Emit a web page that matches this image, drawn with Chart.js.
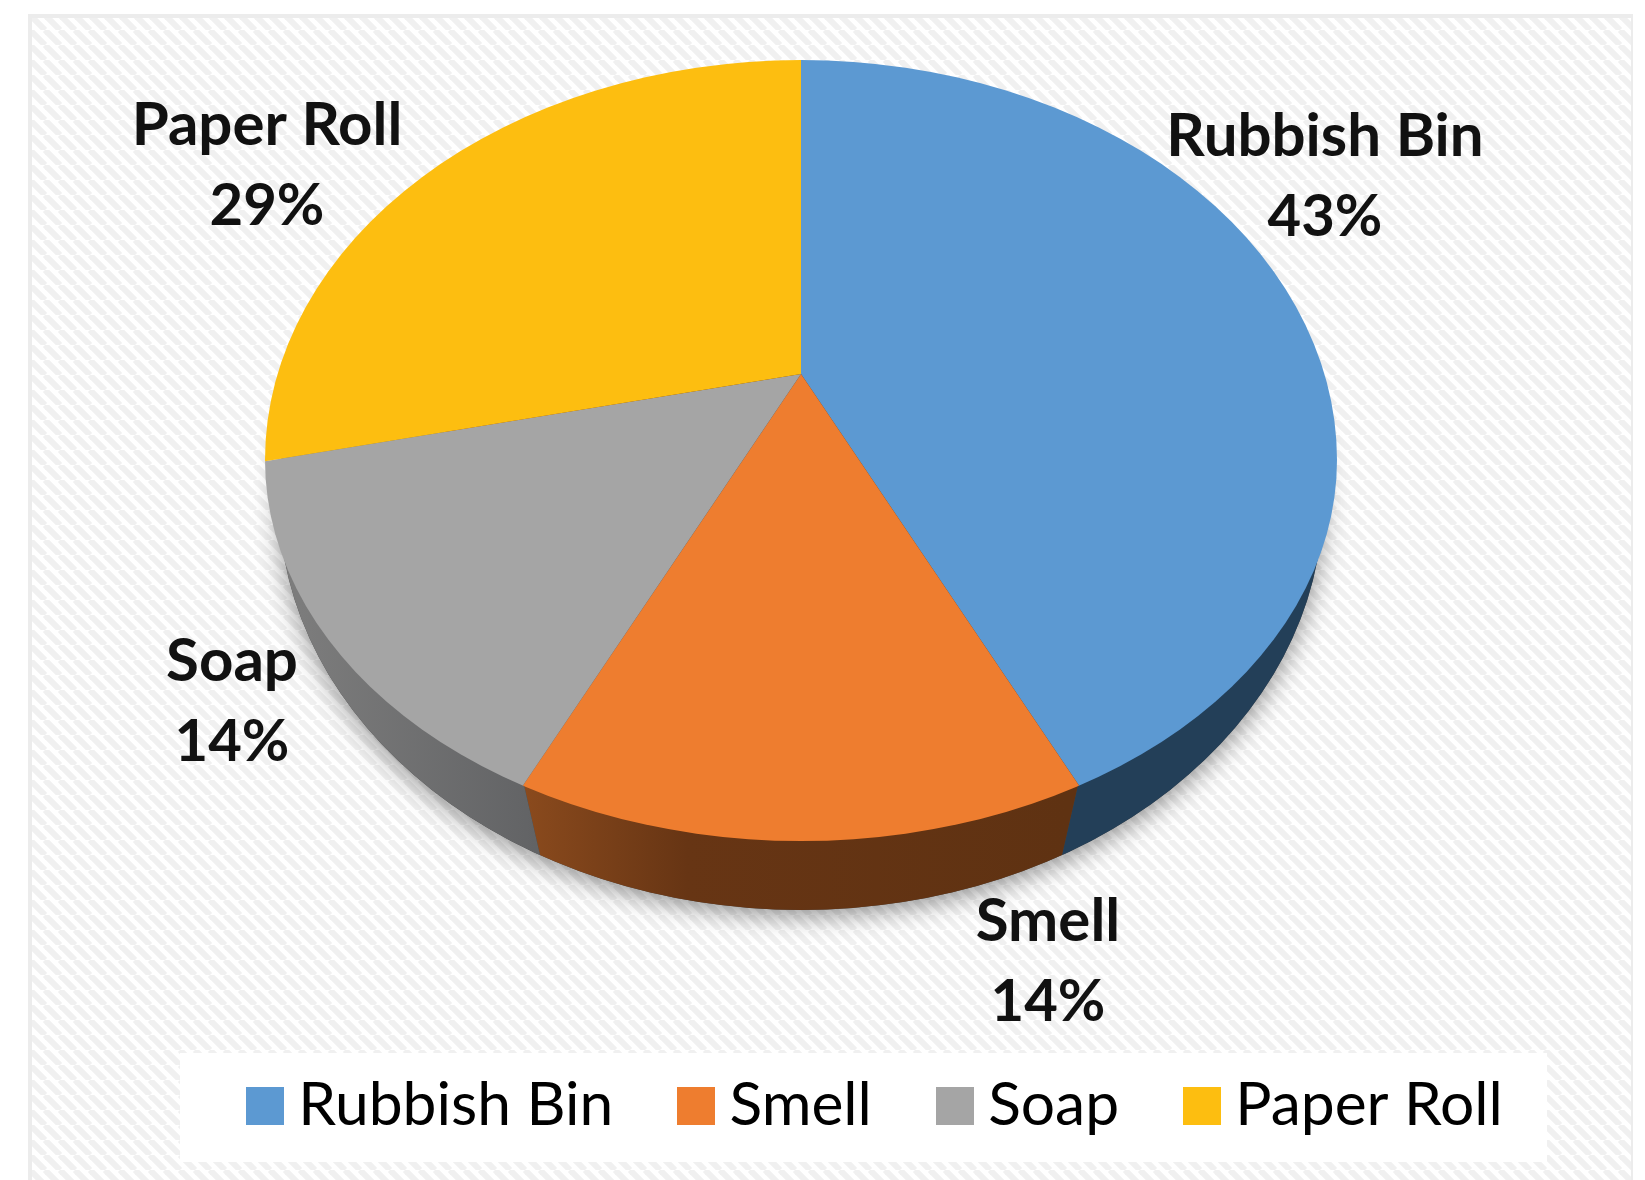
<!DOCTYPE html>
<html>
<head>
<meta charset="utf-8">
<title>Pie chart</title>
<script src="https://cdn.jsdelivr.net/npm/chart.js@4/dist/chart.umd.js"></script>
<style>
  html, body { margin: 0; padding: 0; background: #fff; }
  canvas { display: block; }
</style>
</head>
<body>
<canvas id="pieChart" width="1645" height="1180"></canvas>
<script>
var categories = ["Rubbish Bin", "Smell", "Soap", "Paper Roll"];
var counts = [3, 1, 1, 2];
var topColors = ["#5c99d2", "#ee7d2f", "#a5a5a5", "#fdbe10"];

// the look of the 3D disc: the top face is an egg shape, slices meet above its centre
var topFace = { cx: 801, cy: 460, rx: 536, ryUp: 400, ryDown: 381, tipY: 374, squash: 1.403 };
// the wall edges lean inwards, so they meet at a point far below the disc
var baseFace = { cx: 801, cy: 500, rx: 522, ry: 410, tipY: 1997, squash: 0.4746 };
// label centres, in the same order as categories
var labelPos = [[1325, 137], [1048, 922], [232, 662], [267, 126]];

function square(color) {
  var c = document.createElement("canvas");
  c.width = 38;
  c.height = 38;
  var g = c.getContext("2d");
  g.fillStyle = color;
  g.fillRect(0, 0, 38, 38);
  return c;
}

function hatch(ctx) {
  var p = document.createElement("canvas");
  p.width = 15;
  p.height = 15;
  var g = p.getContext("2d");
  g.fillStyle = "#ffffff";
  g.fillRect(0, 0, 15, 15);
  g.strokeStyle = "#f0f0f0";
  g.lineWidth = 6;
  [-15, 0, 15].forEach(function(o) {
    g.beginPath();
    g.moveTo(o, 0);
    g.lineTo(o + 15, 15);
    g.stroke();
  });
  return ctx.createPattern(p, "repeat");
}

// gradients are read through the current transform, so page x is mapped back into arc space
function wallFill(ctx, i) {
  var m = ctx.getTransform();
  var g;
  if (i === 1) {
    g = ctx.createLinearGradient((525 - m.e) / m.a, 0, (1065 - m.e) / m.a, 0);
    g.addColorStop(0, "#8a4a1d");
    g.addColorStop(0.3, "#673514");
    g.addColorStop(1, "#5f3212");
    return g;
  }
  if (i === 2) {
    g = ctx.createLinearGradient((300 - m.e) / m.a, 0, (535 - m.e) / m.a, 0);
    g.addColorStop(0, "#7c7c7c");
    g.addColorStop(1, "#626365");
    return g;
  }
  return i === 0 ? "#233f58" : "#8f6c00";
}

function baseShape(ctx) {
  ctx.beginPath();
  ctx.ellipse(baseFace.cx, baseFace.cy, baseFace.rx, baseFace.ry, 0, 0, Math.PI * 2);
}

function topShape(ctx) {
  ctx.beginPath();
  ctx.ellipse(topFace.cx, topFace.cy, topFace.rx, topFace.ryUp, 0, Math.PI, Math.PI * 2);
  ctx.ellipse(topFace.cx, topFace.cy, topFace.rx, topFace.ryDown, 0, 0, Math.PI);
  ctx.closePath();
}

var discPlugin = {
  id: "disc",
  beforeDraw: function(chart) {
    var ctx = chart.ctx;
    ctx.save();
    ctx.fillStyle = "#ffffff";
    ctx.fillRect(0, 0, 1645, 1180);
    ctx.fillStyle = "#ececec";
    ctx.fillRect(28, 14, 1605, 1166);
    ctx.fillStyle = hatch(ctx);
    ctx.fillRect(32, 18, 1599, 1162);
    ctx.fillStyle = "#ffffff";
    ctx.fillRect(180, 1053, 1367, 109);
    ctx.restore();
  },
  beforeDatasetsDraw: function(chart) {
    var ctx = chart.ctx;
    var arcs = chart.getDatasetMeta(0).data;
    var first = arcs[0];
    ctx.save();
    ctx.shadowColor = "rgba(0,0,0,0.42)";
    ctx.shadowBlur = 24;
    ctx.shadowOffsetY = 6;
    ctx.fillStyle = "#444444";
    baseShape(ctx);
    ctx.fill();
    ctx.restore();

    // wall: same slices, flipped so they open upwards from the far point
    ctx.save();
    baseShape(ctx);
    ctx.clip();
    var ky = 2500 / first.outerRadius;
    ctx.translate(baseFace.cx, baseFace.tipY);
    ctx.scale(ky * baseFace.squash, -ky);
    ctx.translate(-first.x, -first.y);
    arcs.forEach(function(arc, i) {
      var o = arc.options;
      arc.options = Object.assign({}, o, { backgroundColor: wallFill(ctx, i) });
      arc.draw(ctx);
      arc.options = o;
    });
    ctx.restore();

    // top face: the library draws these when this hook returns
    ctx.save();
    topShape(ctx);
    ctx.clip();
    var k = 1000 / first.outerRadius;
    ctx.translate(topFace.cx, topFace.tipY);
    ctx.scale(k, k / topFace.squash);
    ctx.translate(-first.x, -first.y);
  },
  afterDatasetsDraw: function(chart) {
    var ctx = chart.ctx;
    ctx.restore();

    var total = counts.reduce(function(a, b) { return a + b; }, 0);
    ctx.save();
    ctx.fillStyle = "#111111";
    ctx.textAlign = "center";
    ctx.textBaseline = "middle";
    categories.forEach(function(name, i) {
      ctx.font = "bold 60px Lato";
      ctx.fillText(name, labelPos[i][0], labelPos[i][1]);
      ctx.font = "bold 58px Lato";
      ctx.fillText(Math.round(counts[i] / total * 100) + "%", labelPos[i][0], labelPos[i][1] + 80);
    });
    ctx.restore();
  }
};

window.onload = function() {
  var pieChart = document.getElementById("pieChart").getContext("2d");
  window.myPie = new Chart(pieChart, {
    type: "pie",
    plugins: [discPlugin],
    data: {
      labels: categories,
      datasets: [
        {
          data: counts,
          backgroundColor: topColors,
          borderWidth: 0
        }
      ]
    },
    options: {
      responsive: false,
      animation: false,
      layout: { padding: { left: 120, bottom: 34 } },
      plugins: {
        tooltip: { enabled: false },
        legend: {
          position: "bottom",
          labels: {
            usePointStyle: true,
            pointStyleWidth: 6,
            padding: 80,
            color: "#1a1a1a",
            font: { family: "Lato", size: 60.5 },
            generateLabels: function(chart) {
              return categories.map(function(name, i) {
                return { text: name, pointStyle: square(topColors[i]), index: i, hidden: false, lineWidth: 0 };
              });
            }
          }
        }
      }
    }
  });
};
</script>
</body>
</html>
